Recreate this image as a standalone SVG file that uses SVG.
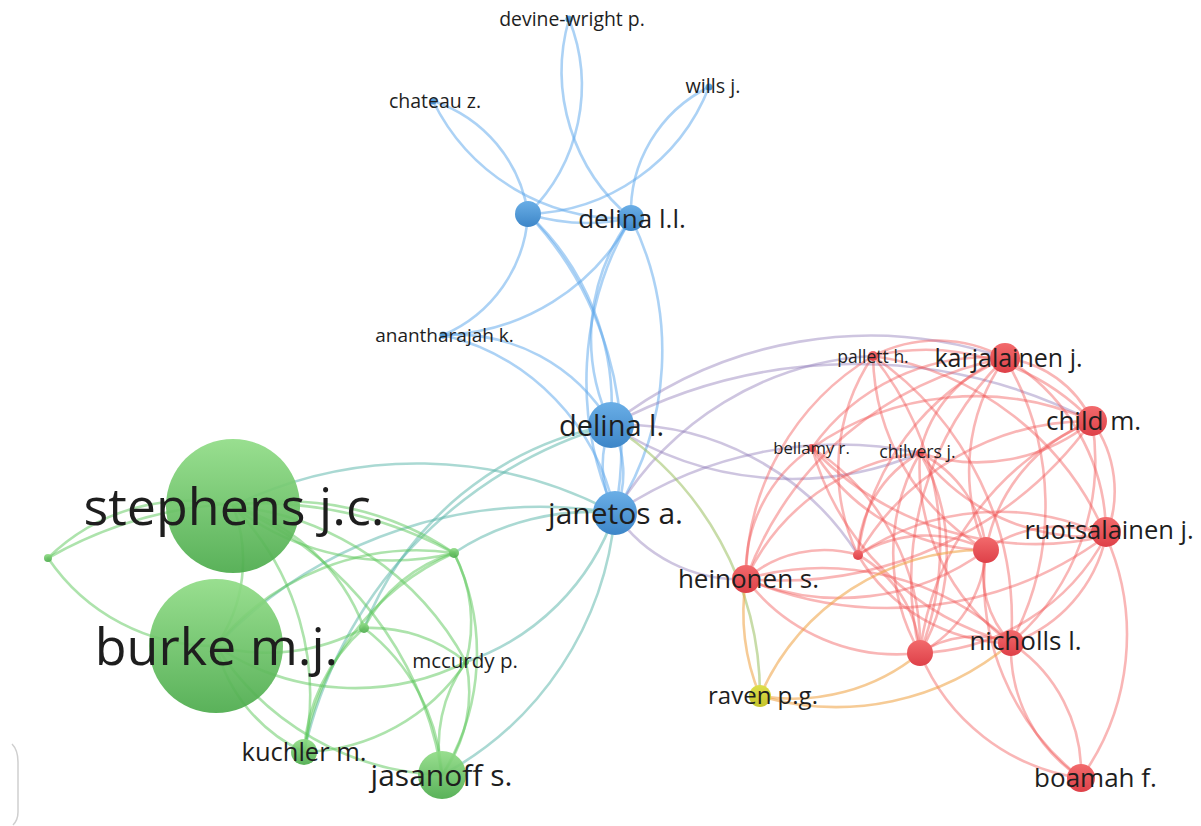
<svg xmlns="http://www.w3.org/2000/svg" width="1201" height="826" viewBox="0 0 1201 826">
  <style>
    .e { fill: none; stroke-width: 2.6; stroke-linecap: round; }
    .eb { stroke: #5aa5ec; stroke-opacity: 0.5; }
    .er { stroke: #f05050; stroke-opacity: 0.42; }
    .eg { stroke: #5cc85a; stroke-opacity: 0.5; }
    .ep { stroke: #8a75b5; stroke-opacity: 0.42; }
    .et { stroke: #55b4a8; stroke-opacity: 0.5; }
    .eo { stroke: #efa040; stroke-opacity: 0.55; }
    .eby { stroke: #9bc060; stroke-opacity: 0.55; }
    .lbl { font-family: "Open Sans", "Liberation Sans", sans-serif; fill: #1e1e1e; text-anchor: middle; }
    .nb { fill: url(#gBlue); }
    .nr { fill: url(#gRed); }
    .ng { fill: url(#gGreen); fill-opacity: 0.92; }
    .ny { fill: url(#gYellow); }
  </style>
  <defs>
    <linearGradient id="gBlue" x1="0" y1="0" x2="0" y2="1">
      <stop offset="0" stop-color="#6aaee6"/>
      <stop offset="1" stop-color="#3d86c8"/>
    </linearGradient>
    <linearGradient id="gRed" x1="0" y1="0" x2="0" y2="1">
      <stop offset="0" stop-color="#f26a6c"/>
      <stop offset="1" stop-color="#de4048"/>
    </linearGradient>
    <linearGradient id="gGreen" x1="0" y1="0" x2="0" y2="1">
      <stop offset="0" stop-color="#90dc86"/>
      <stop offset="1" stop-color="#4cab4c"/>
    </linearGradient>
    <linearGradient id="gYellow" x1="0" y1="0" x2="0" y2="1">
      <stop offset="0" stop-color="#dede4a"/>
      <stop offset="1" stop-color="#c4c42c"/>
    </linearGradient>
  </defs>

  <rect width="1201" height="826" fill="#ffffff"/>

  <!-- panel edge at the lower left -->
  <path d="M12 744 Q18 750 18 762 L18 812 Q18 820 13 825" fill="none" stroke="#cfcfcf" stroke-width="1.5"/>

  <g id="edges">
    <!-- blue cluster -->
    <path class="e eb" d="M569,19 A180,180 0 0 1 528,214"/>
    <path class="e eb" d="M569,19 A190,190 0 0 0 631,218"/>
    <path class="e eb" d="M433,101 A140,140 0 0 1 528,214"/>
    <path class="e eb" d="M433,101 A210,210 0 0 0 631,218"/>
    <path class="e eb" d="M709,87 A200,200 0 0 1 528,214"/>
    <path class="e eb" d="M709,87 A140,140 0 0 0 631,218"/>
    <path class="e eb" d="M528,214 A200,200 0 0 0 631,218"/>
    <path class="e eb" d="M443,335 A140,140 0 0 0 528,214"/>
    <path class="e eb" d="M443,335 A220,220 0 0 0 631,218"/>
    <path class="e eb" d="M443,335 A180,180 0 0 1 611,425"/>
    <path class="e eb" d="M443,335 A230,230 0 0 1 615,513"/>
    <path class="e eb" d="M528,214 A260,260 0 0 1 611,425" stroke-width="4.5"/>
    <path class="e eb" d="M528,214 A340,340 0 0 1 615,513"/>
    <path class="e eb" d="M631,218 A200,200 0 0 0 611,425"/>
    <path class="e eb" d="M631,218 A300,300 0 0 1 615,513"/>
    <path class="e eb" d="M631,218 A320,320 0 0 0 615,513"/>
    <path class="e eb" d="M611,425 A100,100 0 0 0 615,513"/>
    <path class="e eb" d="M611,425 A100,100 0 0 1 615,513"/>

    <!-- blue to red -->
    <path class="e ep" d="M611,425 A420,420 0 0 1 1005,358"/>
    <path class="e ep" d="M611,425 A520,520 0 0 1 1092,421"/>
    <path class="e ep" d="M611,425 A330,330 0 0 0 920,453"/>
    <path class="e ep" d="M611,425 A280,280 0 0 1 858,555"/>
    <path class="e ep" d="M615,513 A150,150 0 0 0 746,579"/>
    <path class="e ep" d="M615,513 A320,320 0 0 1 873,356"/>
    <path class="e ep" d="M615,513 A400,400 0 0 1 920,453"/>

    <!-- blue to yellow -->
    <path class="e eby" d="M611,425 A320,320 0 0 1 760,696"/>

    <!-- blue to green -->
    <path class="e et" d="M611,425 A440,440 0 0 0 304,752"/>
    <path class="e et" d="M611,425 A330,330 0 0 0 364,628"/>
    <path class="e et" d="M615,513 A250,250 0 0 0 454,553"/>
    <path class="e et" d="M615,513 A420,420 0 0 0 233,506"/>
    <path class="e et" d="M615,513 A450,450 0 0 0 216,646"/>
    <path class="e et" d="M615,513 A330,330 0 0 1 442,775"/>
    <path class="e et" d="M615,513 A240,240 0 0 1 466,662"/>

    <!-- green cluster -->
    <path class="e eg" d="M48,558 A200,200 0 0 1 233,506"/>
    <path class="e eg" d="M48,558 A200,200 0 0 0 216,646"/>
    <path class="e eg" d="M48,558 A420,420 0 0 1 454,553"/>
    <path class="e eg" d="M233,506 A260,260 0 0 0 454,553"/>
    <path class="e eg" d="M233,506 A300,300 0 0 1 454,553"/>
    <path class="e eg" d="M216,646 A260,260 0 0 1 454,553"/>
    <path class="e eg" d="M233,506 A200,200 0 0 1 364,628"/>
    <path class="e eg" d="M216,646 A200,200 0 0 0 364,628"/>
    <path class="e eg" d="M454,553 A150,150 0 0 0 364,628"/>
    <path class="e eg" d="M454,553 A260,260 0 0 0 304,752"/>
    <path class="e eg" d="M454,553 A230,230 0 0 1 442,775"/>
    <path class="e eg" d="M364,628 A200,200 0 0 1 442,775"/>
    <path class="e eg" d="M364,628 A180,180 0 0 0 304,752"/>
    <path class="e eg" d="M304,752 A200,200 0 0 0 466,662"/>
    <path class="e eg" d="M466,662 A140,140 0 0 1 442,775"/>
    <path class="e eg" d="M466,662 A140,140 0 0 0 442,775"/>
    <path class="e eg" d="M233,506 A300,300 0 0 1 466,662"/>
    <path class="e eg" d="M216,646 A250,250 0 0 0 466,662"/>
    <path class="e eg" d="M233,506 A350,350 0 0 1 442,775"/>
    <path class="e eg" d="M216,646 A160,160 0 0 0 304,752"/>
    <path class="e eg" d="M233,506 A270,270 0 0 1 304,752"/>
    <path class="e eg" d="M216,646 A280,280 0 0 0 442,775"/>
    <path class="e eg" d="M364,628 A150,150 0 0 1 466,662"/>
    <path class="e eg" d="M454,553 A150,150 0 0 1 466,662"/>
    <path class="e eg" d="M233,506 A150,150 0 0 1 216,646"/>

    <!-- red cluster -->
    <path class="e er" d="M873,356 A140,140 0 0 1 1005,358"/>
    <path class="e er" d="M873,356 A230,230 0 0 1 1092,421"/>
    <path class="e er" d="M873,356 A300,300 0 0 1 1106,536"/>
    <path class="e er" d="M873,356 A230,230 0 0 0 986,550"/>
    <path class="e er" d="M873,356 A200,200 0 0 0 858,555"/>
    <path class="e er" d="M873,356 A260,260 0 0 0 746,579"/>
    <path class="e er" d="M873,356 A300,300 0 0 1 920,653"/>
    <path class="e er" d="M873,356 A320,320 0 0 1 1011,643"/>
    <path class="e er" d="M1005,358 A110,110 0 0 1 1092,421"/>
    <path class="e er" d="M1005,358 A215,215 0 0 0 812,448"/>
    <path class="e er" d="M1005,358 A130,130 0 0 0 920,453"/>
    <path class="e er" d="M1005,358 A205,205 0 0 1 1106,536"/>
    <path class="e er" d="M1005,358 A195,195 0 0 0 986,550"/>
    <path class="e er" d="M1005,358 A250,250 0 0 0 858,555"/>
    <path class="e er" d="M1005,358 A345,345 0 0 0 746,579"/>
    <path class="e er" d="M1005,358 A310,310 0 0 0 920,653"/>
    <path class="e er" d="M1005,358 A290,290 0 0 1 1011,643"/>
    <path class="e er" d="M1092,421 A285,285 0 0 0 812,448"/>
    <path class="e er" d="M1092,421 A180,180 0 0 1 920,453"/>
    <path class="e er" d="M1092,421 A120,120 0 0 1 1106,536"/>
    <path class="e er" d="M1092,421 A170,170 0 0 0 986,550"/>
    <path class="e er" d="M1092,421 A270,270 0 0 0 858,555"/>
    <path class="e er" d="M1092,421 A385,385 0 0 1 746,579"/>
    <path class="e er" d="M1092,421 A290,290 0 0 0 920,653"/>
    <path class="e er" d="M1092,421 A240,240 0 0 1 1011,643"/>
    <path class="e er" d="M812,448 A150,150 0 0 0 746,579"/>
    <path class="e er" d="M812,448 A205,205 0 0 0 986,550"/>
    <path class="e er" d="M812,448 A235,235 0 0 1 920,653"/>
    <path class="e er" d="M812,448 A280,280 0 0 0 1011,643"/>
    <path class="e er" d="M812,448 A310,310 0 0 0 1106,536"/>
    <path class="e er" d="M920,453 A210,210 0 0 0 1106,536"/>
    <path class="e er" d="M920,453 A120,120 0 0 1 986,550"/>
    <path class="e er" d="M920,453 A120,120 0 0 0 858,555"/>
    <path class="e er" d="M920,453 A220,220 0 0 0 746,579"/>
    <path class="e er" d="M920,453 A200,200 0 0 1 920,653"/>
    <path class="e er" d="M920,453 A200,200 0 0 0 920,653"/>
    <path class="e er" d="M920,453 A215,215 0 0 0 1011,643"/>
    <path class="e er" d="M1106,536 A125,125 0 0 0 986,550"/>
    <path class="e er" d="M1106,536 A250,250 0 0 0 858,555"/>
    <path class="e er" d="M1106,536 A365,365 0 0 1 746,579"/>
    <path class="e er" d="M1106,536 A220,220 0 0 1 920,653"/>
    <path class="e er" d="M1106,536 A145,145 0 0 1 1011,643"/>
    <path class="e er" d="M1106,536 A245,245 0 0 1 1081,778"/>
    <path class="e er" d="M986,550 A130,130 0 0 0 858,555"/>
    <path class="e er" d="M986,550 A245,245 0 0 1 746,579"/>
    <path class="e er" d="M986,550 A125,125 0 0 1 920,653"/>
    <path class="e er" d="M986,550 A100,100 0 0 0 1011,643"/>
    <path class="e er" d="M986,550 A250,250 0 0 0 1081,778"/>
    <path class="e er" d="M858,555 A120,120 0 0 0 746,579"/>
    <path class="e er" d="M858,555 A120,120 0 0 1 920,653"/>
    <path class="e er" d="M858,555 A180,180 0 0 0 1011,643"/>
    <path class="e er" d="M746,579 A190,190 0 0 0 920,653"/>
    <path class="e er" d="M746,579 A275,275 0 0 1 1011,643"/>
    <path class="e er" d="M920,653 A100,100 0 0 1 1011,643"/>
    <path class="e er" d="M920,653 A205,205 0 0 0 1081,778"/>
    <path class="e er" d="M1011,643 A155,155 0 0 1 1081,778"/>
    <path class="e er" d="M1011,643 A155,155 0 0 0 1081,778"/>

    <!-- yellow to red -->
    <path class="e eo" d="M760,696 A220,220 0 0 1 746,579"/>
    <path class="e eo" d="M760,696 A245,245 0 0 1 986,550"/>
    <path class="e eo" d="M760,696 A270,270 0 0 0 1011,643"/>
    <path class="e eo" d="M760,696 A200,200 0 0 0 920,653"/>
  </g>

  <!-- green cluster -->
  <g id="stephens-jc"><circle class="ng" cx="233" cy="506" r="67"/><text class="lbl" x="234" y="525" font-size="52">stephens j.c.</text></g>
  <g id="burke-mj"><circle class="ng" cx="216" cy="646" r="67"/><text class="lbl" x="216.5" y="665" font-size="52">burke m.j.</text></g>
  <g id="green-a"><circle class="ng" cx="48" cy="558" r="4"/></g>
  <g id="green-b"><circle class="ng" cx="454" cy="553" r="5"/></g>
  <g id="green-c"><circle class="ng" cx="364" cy="628" r="5"/></g>
  <g id="mccurdy-p"><circle class="ng" cx="466" cy="662" r="3"/><text class="lbl" x="465" y="668" font-size="20.5">mccurdy p.</text></g>
  <g id="kuchler-m"><circle class="ng" cx="304" cy="752" r="13"/><text class="lbl" x="304" y="761" font-size="25.5">kuchler m.</text></g>
  <g id="jasanoff-s"><circle class="ng" cx="442" cy="775" r="24"/><text class="lbl" x="441.5" y="786" font-size="30">jasanoff s.</text></g>

  <!-- blue cluster -->
  <g id="devine-wright-p"><circle class="nb" cx="569" cy="19" r="3.5"/><text class="lbl" x="572" y="26" font-size="19.4">devine-wright p.</text></g>
  <g id="wills-j"><circle class="nb" cx="709" cy="87" r="3.5"/><text class="lbl" x="713" y="93" font-size="19.7">wills j.</text></g>
  <g id="chateau-z"><circle class="nb" cx="433" cy="101" r="3.5"/><text class="lbl" x="435" y="108" font-size="19.5">chateau z.</text></g>
  <g id="blue-a"><circle class="nb" cx="528" cy="214" r="13"/></g>
  <g id="delina-ll"><circle class="nb" cx="631" cy="218" r="13"/><text class="lbl" x="632" y="228" font-size="26">delina l.l.</text></g>
  <g id="anantharajah-k"><circle class="nb" cx="443" cy="335" r="3.5"/><text class="lbl" x="444.5" y="342" font-size="19">anantharajah k.</text></g>
  <g id="delina-l"><circle class="nb" cx="611" cy="425" r="23"/><text class="lbl" x="611.5" y="436" font-size="29">delina l.</text></g>
  <g id="janetos-a"><circle class="nb" cx="615" cy="513" r="22"/><text class="lbl" x="615.5" y="524" font-size="30">janetos a.</text></g>

  <!-- red cluster -->
  <g id="pallett-h"><circle class="nr" cx="873" cy="356" r="5"/><text class="lbl" x="873" y="363" font-size="17.5">pallett h.</text></g>
  <g id="karjalainen-j"><circle class="nr" cx="1005" cy="358" r="15"/><text class="lbl" x="1008.5" y="367" font-size="25">karjalainen j.</text></g>
  <g id="child-m"><circle class="nr" cx="1092" cy="421" r="15"/><text class="lbl" x="1093.5" y="430" font-size="26">child m.</text></g>
  <g id="bellamy-r"><circle class="nr" cx="812" cy="448" r="4"/><text class="lbl" x="811.5" y="454" font-size="16.7">bellamy r.</text></g>
  <g id="chilvers-j"><circle class="nr" cx="920" cy="453" r="4"/><text class="lbl" x="917.5" y="458" font-size="17.7">chilvers j.</text></g>
  <g id="ruotsalainen-j"><circle class="nr" cx="1106" cy="532" r="15"/><text class="lbl" x="1109" y="539" font-size="25.5">ruotsalainen j.</text></g>
  <g id="red-a"><circle class="nr" cx="986" cy="550" r="13"/></g>
  <g id="red-b"><circle class="nr" cx="858" cy="555" r="5"/></g>
  <g id="heinonen-s"><circle class="nr" cx="746" cy="579" r="14"/><text class="lbl" x="748.5" y="588" font-size="26">heinonen s.</text></g>
  <g id="red-c"><circle class="nr" cx="920" cy="653" r="13"/></g>
  <g id="nicholls-l"><circle class="nr" cx="1011" cy="643" r="13"/><text class="lbl" x="1025.5" y="650" font-size="26">nicholls l.</text></g>
  <g id="boamah-f"><circle class="nr" cx="1081" cy="778" r="14"/><text class="lbl" x="1095.5" y="787" font-size="26">boamah f.</text></g>

  <!-- yellow cluster -->
  <g id="raven-pg"><circle class="ny" cx="760" cy="696" r="11"/><text class="lbl" x="763" y="704" font-size="24">raven p.g.</text></g>
</svg>
